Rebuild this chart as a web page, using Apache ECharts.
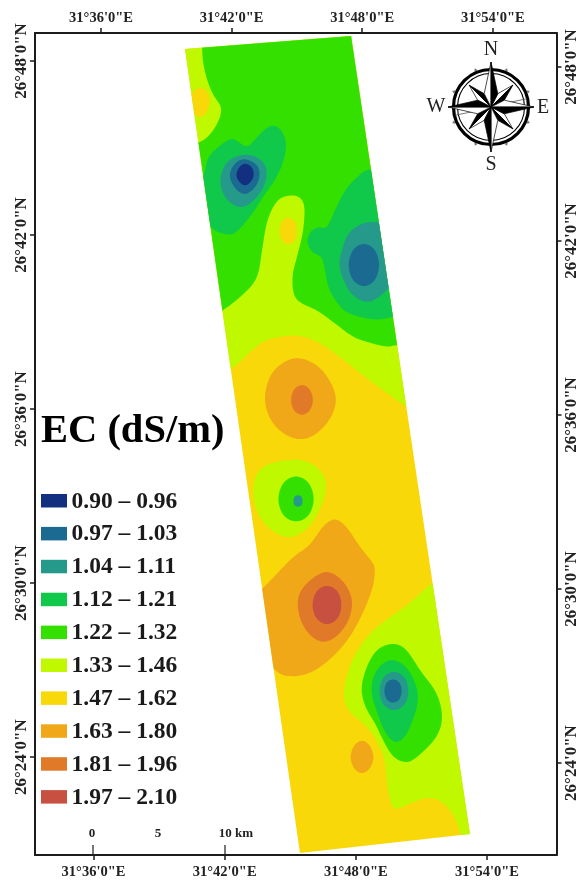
<!DOCTYPE html>
<html><head><meta charset="utf-8">
<style>html,body{margin:0;padding:0;background:#fff}#c{width:578px;height:884px}</style>
<script src="https://cdn.jsdelivr.net/npm/echarts@6/dist/echarts.min.js"></script>
</head><body><div id="c"></div>
<script>
// All ring coordinates: [minutes past 31 deg E, minutes past 26 deg N]
const classLabels = ['0.90 – 0.96','0.97 – 1.03','1.04 – 1.11','1.12 – 1.21','1.22 – 1.32','1.33 – 1.46','1.47 – 1.62','1.63 – 1.80','1.81 – 1.96','1.97 – 2.10'];
const classColors = ['#12307f','#1a6a92','#269a8a','#10c84a','#33e000','#c0f800','#f8d808','#f0a818','#e07a28','#c85040'];
const lonTicks = [36,42,48,54];
const latTicks = [48,42,36,30,24];
const lonTickLabels = ['31°36\'0"E','31°42\'0"E','31°48\'0"E','31°54\'0"E'];
const latTickLabels = ['26°48\'0"N','26°42\'0"N','26°36\'0"N','26°30\'0"N','26°24\'0"N'];

const strip = [[39.86,48.41],[47.49,48.86],[52.95,21.35],[45.14,20.69]];

const north133 = [[38.71,49.76],[51.11,49.76],[51.11,35.62],[49.97,36.10],[48.82,36.72],[47.90,37.24],[46.98,37.79],[46.06,38.28],[45.14,38.55],[44.09,38.48],[43.30,38.28],[42.39,37.62],[42.02,37.41],[41.24,36.93],[38.71,36.93]];
const north122 = [[40.64,49.41],[40.64,48.45],[40.69,47.93],[40.87,47.35],[41.15,46.83],[41.56,46.38],[41.37,45.86],[40.92,45.38],[40.46,45.17],[39.63,44.93],[39.17,42.52],[39.17,39.76],[40.78,38.99],[41.56,39.38],[42.25,39.76],[43.17,40.45],[43.40,41.48],[43.63,42.52],[44.09,43.21],[44.68,43.38],[45.14,43.31],[45.37,42.97],[45.28,42.07],[45.00,41.24],[44.77,40.55],[44.91,39.76],[45.92,39.41],[46.84,38.90],[47.58,38.48],[48.36,38.28],[49.14,38.14],[49.60,38.21],[51.11,38.28],[51.11,49.76]];
const patchNW147 = [[40.55,47.10],[40.92,46.93],[41.01,46.59],[40.87,46.24],[40.55,46.03],[40.18,46.24],[40.04,46.59],[40.18,46.93]];
const patchPen147 = [[44.59,42.62],[44.91,42.48],[45.00,42.14],[44.91,41.79],[44.59,41.66],[44.32,41.79],[44.18,42.14],[44.32,42.48]];
const nw112 = [[40.73,44.07],[40.92,44.69],[41.47,45.10],[42.02,45.34],[42.39,45.17],[42.75,45.03],[43.17,45.38],[43.76,45.79],[44.22,45.69],[44.54,45.17],[44.36,44.48],[44.00,43.90],[43.44,43.31],[42.98,42.76],[42.25,42.10],[41.79,42.00],[41.01,42.24],[40.32,43.21]];
const nw104 = [[42.52,44.79],[43.21,44.69],[43.63,44.31],[43.53,43.72],[43.07,43.21],[42.48,42.93],[41.93,43.10],[41.56,43.48],[41.47,44.00],[41.79,44.55]];
const nw097 = [[42.57,44.65],[43.21,44.41],[43.30,44.00],[43.07,43.62],[42.62,43.38],[42.16,43.59],[41.88,44.04],[42.11,44.45]];
const nw090 = [[42.62,44.48],[42.94,44.34],[43.03,44.07],[42.89,43.83],[42.62,43.69],[42.34,43.83],[42.20,44.07],[42.34,44.34]];
const ne112 = [[48.36,44.31],[47.76,44.00],[47.21,43.55],[46.75,42.86],[46.38,42.24],[45.97,42.28],[45.60,42.10],[45.46,41.76],[45.69,41.41],[46.15,41.24],[46.29,40.79],[46.43,40.21],[46.75,39.76],[47.21,39.35],[47.90,39.17],[48.68,39.07],[49.37,39.17],[50.65,39.41],[50.65,44.24]];
const ne104 = [[48.82,42.45],[47.99,42.41],[47.35,42.07],[47.07,41.48],[46.93,41.03],[47.12,40.45],[47.53,39.93],[48.22,39.65],[48.91,39.93],[49.37,40.38],[49.60,42.17]];
const ne097 = [[48.08,41.72],[48.59,41.52],[48.81,40.97],[48.59,40.41],[48.08,40.21],[47.57,40.41],[47.34,40.97],[47.57,41.52]];
const c163 = [[45.14,37.79],[46.15,37.41],[46.84,36.48],[46.61,35.73],[45.97,35.17],[45.23,34.93],[44.45,35.10],[43.76,35.62],[43.49,36.38],[43.76,37.17],[44.36,37.62]];
const c181 = [[45.23,36.85],[45.60,36.69],[45.76,36.31],[45.60,35.93],[45.23,35.78],[44.86,35.93],[44.71,36.31],[44.86,36.69]];
const m133 = [[44.68,34.28],[45.74,34.14],[46.38,33.55],[46.20,32.76],[45.60,31.93],[44.68,31.52],[43.76,31.83],[43.17,32.42],[42.94,33.21],[43.30,34.00]];
const m122 = [[44.96,33.71],[45.56,33.48],[45.81,32.90],[45.56,32.31],[44.96,32.09],[44.36,32.31],[44.11,32.90],[44.36,33.48]];
const m104 = [[45.05,33.04],[45.23,32.97],[45.26,32.83],[45.23,32.69],[45.05,32.62],[44.87,32.69],[44.84,32.83],[44.87,32.97]];
const s163 = [[46.75,32.24],[47.30,31.93],[47.90,31.24],[48.50,30.69],[48.59,30.45],[48.50,29.86],[48.04,28.97],[47.44,28.14],[46.66,27.45],[45.74,26.93],[44.82,26.76],[44.00,26.93],[43.07,28.04],[42.85,29.41],[43.44,29.83],[43.76,30.07],[44.82,30.90],[45.60,31.31],[46.20,31.97]];
const s181 = [[46.29,30.45],[47.12,30.10],[47.58,29.41],[47.35,28.62],[46.66,28.04],[45.97,27.97],[45.28,28.48],[45.00,29.24],[45.23,29.86]];
const s197 = [[46.38,29.93],[46.89,29.73],[47.07,29.24],[46.89,28.76],[46.38,28.55],[45.88,28.76],[45.69,29.24],[45.88,29.73]];
const se133 = [[51.25,30.04],[50.20,29.31],[49.28,28.83],[48.36,28.28],[47.58,27.45],[47.12,26.31],[47.30,25.62],[48.04,25.17],[48.59,24.69],[49.05,23.90],[49.14,22.97],[49.41,22.17],[50.06,22.35],[50.98,22.62],[51.71,22.45],[52.26,21.93],[52.54,21.31],[52.63,20.80],[53.87,20.80],[53.87,29.41],[52.49,30.45]];
const se163 = [[47.99,24.59],[48.36,24.41],[48.54,24.00],[48.36,23.59],[47.99,23.42],[47.62,23.59],[47.44,24.00],[47.62,24.41]];
const se122 = [[49.51,27.93],[50.06,27.69],[50.65,27.00],[51.44,26.21],[51.71,25.38],[51.44,24.69],[50.65,24.07],[50.06,23.79],[49.41,24.00],[48.95,24.59],[48.59,25.17],[48.13,25.73],[47.94,26.38],[48.22,27.17],[48.73,27.76]];
const se112 = [[49.41,27.38],[50.06,27.10],[50.52,26.41],[50.56,25.86],[50.33,25.28],[49.97,24.69],[49.51,24.48],[49.05,24.83],[48.73,25.45],[48.45,26.07],[48.45,26.66],[48.82,27.17]];
const se104 = [[49.46,26.97],[49.97,26.76],[50.15,26.28],[49.97,25.79],[49.46,25.59],[48.95,25.79],[48.77,26.28],[48.95,26.76]];
const se097 = [[49.41,26.69],[49.71,26.59],[49.83,26.28],[49.71,25.97],[49.41,25.86],[49.12,25.97],[49.00,26.28],[49.12,26.59]];

// paint order, each ring with the index of its EC class
const layers = [
  [strip,6],[north133,5],[north122,4],[patchNW147,6],[patchPen147,6],
  [nw112,3],[nw104,2],[nw097,1],[nw090,0],
  [ne112,3],[ne104,2],[ne097,1],
  [c163,7],[c181,8],[m133,5],[m122,4],[m104,2],
  [s163,7],[s181,8],[s197,9],
  [se133,5],[se163,7],[se122,4],[se112,3],[se104,2],[se097,1]
];

// closed curve through a ring: half Catmull-Rom, half cubic B-spline, to soften hand-read corners
function spline(p){
  const out=[],n=p.length,steps=10;
  for(let i=0;i<n;i++){
    const a=p[(i-1+n)%n],b=p[i],c=p[(i+1)%n],d=p[(i+2)%n];
    for(let s=0;s<steps;s++){
      const t=s/steps,t2=t*t,t3=t2*t;
      out.push([0,1].map(k=>{
        const cr=0.5*(2*b[k]+(c[k]-a[k])*t+(2*a[k]-5*b[k]+4*c[k]-d[k])*t2+(3*b[k]-a[k]-3*c[k]+d[k])*t3);
        const bs=((1-t)*(1-t)*(1-t)*a[k]+(3*t3-6*t2+4)*b[k]+(-3*t3+3*t2+3*t+1)*c[k]+t3*d[k])/6;
        return 0.5*cr+0.5*bs;
      }));
    }
  }
  return out;
}

const serif='"Liberation Serif","Times New Roman",serif';
const frame='#1c1c1c';
const chart=echarts.init(document.getElementById('c'),null,{renderer:'canvas'});

function xAxis(pos,min,max,margin){return {type:'value',position:pos,min,max,splitLine:{show:false},
  axisLine:{show:true,onZero:false,lineStyle:{color:frame,width:2}},
  axisTick:{show:true,length:5,inside:false,customValues:lonTicks,lineStyle:{color:frame,width:1.5}},
  axisLabel:{show:true,customValues:lonTicks,margin,color:'#222',fontFamily:serif,fontWeight:'bold',fontSize:14.5,
    formatter:v=>lonTickLabels[lonTicks.indexOf(v)]}};}
function yAxis(pos,min,max,margin){return {type:'value',position:pos,min,max,splitLine:{show:false},
  axisLine:{show:true,onZero:false,lineStyle:{color:frame,width:2}},
  axisTick:{show:true,length:5,inside:false,customValues:latTicks,lineStyle:{color:frame,width:1.5}},
  axisLabel:{show:true,customValues:latTicks,rotate:90,margin,align:'center',verticalAlign:'middle',color:'#222',fontFamily:serif,fontWeight:'bold',fontSize:17,
    formatter:v=>latTickLabels[latTicks.indexOf(v)]}};}

const legendG=[];
legendG.push({type:'text',left:41,top:411,style:{text:'EC (dS/m)',font:'bold 40.5px '+serif,fill:'#000'}});
classLabels.forEach((t,i)=>{
  const y=494+i*32.9;
  legendG.push({type:'rect',shape:{x:41,y:y,width:26,height:13.5},style:{fill:classColors[i]}});
  legendG.push({type:'text',x:71.5,y:y+7.5,style:{text:t,font:'bold 23.5px '+serif,fill:'#1a1a1a',verticalAlign:'middle',textVerticalAlign:'middle'}});
});
// scale bar
[['0',92],['5',158],['10 km',236]].forEach(a=>{
  legendG.push({type:'text',x:a[1],y:834,style:{text:a[0],font:'bold 13px '+serif,fill:'#222',align:'center',verticalAlign:'middle',textAlign:'center',textVerticalAlign:'middle'}});
});
[93,225].forEach(x=>legendG.push({type:'line',shape:{x1:x,y1:845,x2:x,y2:855},style:{stroke:frame,lineWidth:1.2}}));

// compass rose
const cx=491,cy=107;
const pt=(r,deg)=>{const a=(deg-90)*Math.PI/180;return [cx+r*Math.cos(a),cy+r*Math.sin(a)];};
legendG.push({type:'circle',shape:{cx,cy,r:37.5},style:{fill:'none',stroke:'#000',lineWidth:3.2}});
legendG.push({type:'circle',shape:{cx,cy,r:33.5},style:{fill:'none',stroke:'#000',lineWidth:1.1}});
for(let k=0;k<8;k++){const d=22.5+k*45;
  legendG.push({type:'polygon',shape:{points:[pt(42,d),pt(39,d-3),pt(39,d+3)]},style:{fill:'#777'}});}
[[75,14,37],[255,14,37]].forEach(a=>{
  legendG.push({type:'line',shape:{x1:pt(a[1],a[0])[0],y1:pt(a[1],a[0])[1],x2:pt(a[2],a[0]+2)[0],y2:pt(a[2],a[0]+2)[1]},style:{stroke:'#555',lineWidth:0.8}});
});
[45,135,225,315,0,90,180,270].forEach(d=>{
  const long=d%90===0,R=long?(d===0||d===180?45:43):31,off=long?27:18,w=15;
  legendG.push({type:'polygon',shape:{points:[[cx,cy],pt(R,d),pt(w,d-off)]},style:{fill:'#fff',stroke:'#000',lineWidth:0.7}});
  legendG.push({type:'polygon',shape:{points:[[cx,cy],pt(R,d),pt(w,d+off)]},style:{fill:'#000',stroke:'#000',lineWidth:0.7}});
});
[['N',491,50],['S',491,165],['W',436,107],['E',543,108]].forEach(a=>{
  legendG.push({type:'text',x:a[1],y:a[2],style:{text:a[0],font:'20px '+serif,fill:'#222',align:'center',verticalAlign:'middle',textAlign:'center',textVerticalAlign:'middle'}});
});

chart.setOption({
  animation:false,
  backgroundColor:'#fff',
  grid:{left:35,right:21.5,top:33,bottom:29,containLabel:false,outerBoundsMode:'none'},
  xAxis:[xAxis('top',32.968,56.926,7),xAxis('bottom',33.324,57.18,10)],
  yAxis:[yAxis('left',20.623,48.965,13),yAxis('right',20.828,49.172,15)],
  series:[{
    type:'custom',xAxisIndex:0,yAxisIndex:0,clip:false,silent:true,
    coordinateSystem:'cartesian2d',
    dimensions:['layer'],encode:{x:[],y:[]},
    data:layers.map((l,i)=>[i]),
    renderItem:(params,api)=>{
      const l=layers[api.value(0)];
      const px=l[0].map(p=>api.coord(p));
      const isStrip=l[0]===strip;
      return {type:'polygon',
        shape:{points:isStrip?px:spline(px)},
        style:{fill:classColors[l[1]]},
        clipPath:isStrip?undefined:{type:'polygon',shape:{points:strip.map(p=>api.coord(p))}}};
    }
  }],
  graphic:legendG
});
</script></body></html>
